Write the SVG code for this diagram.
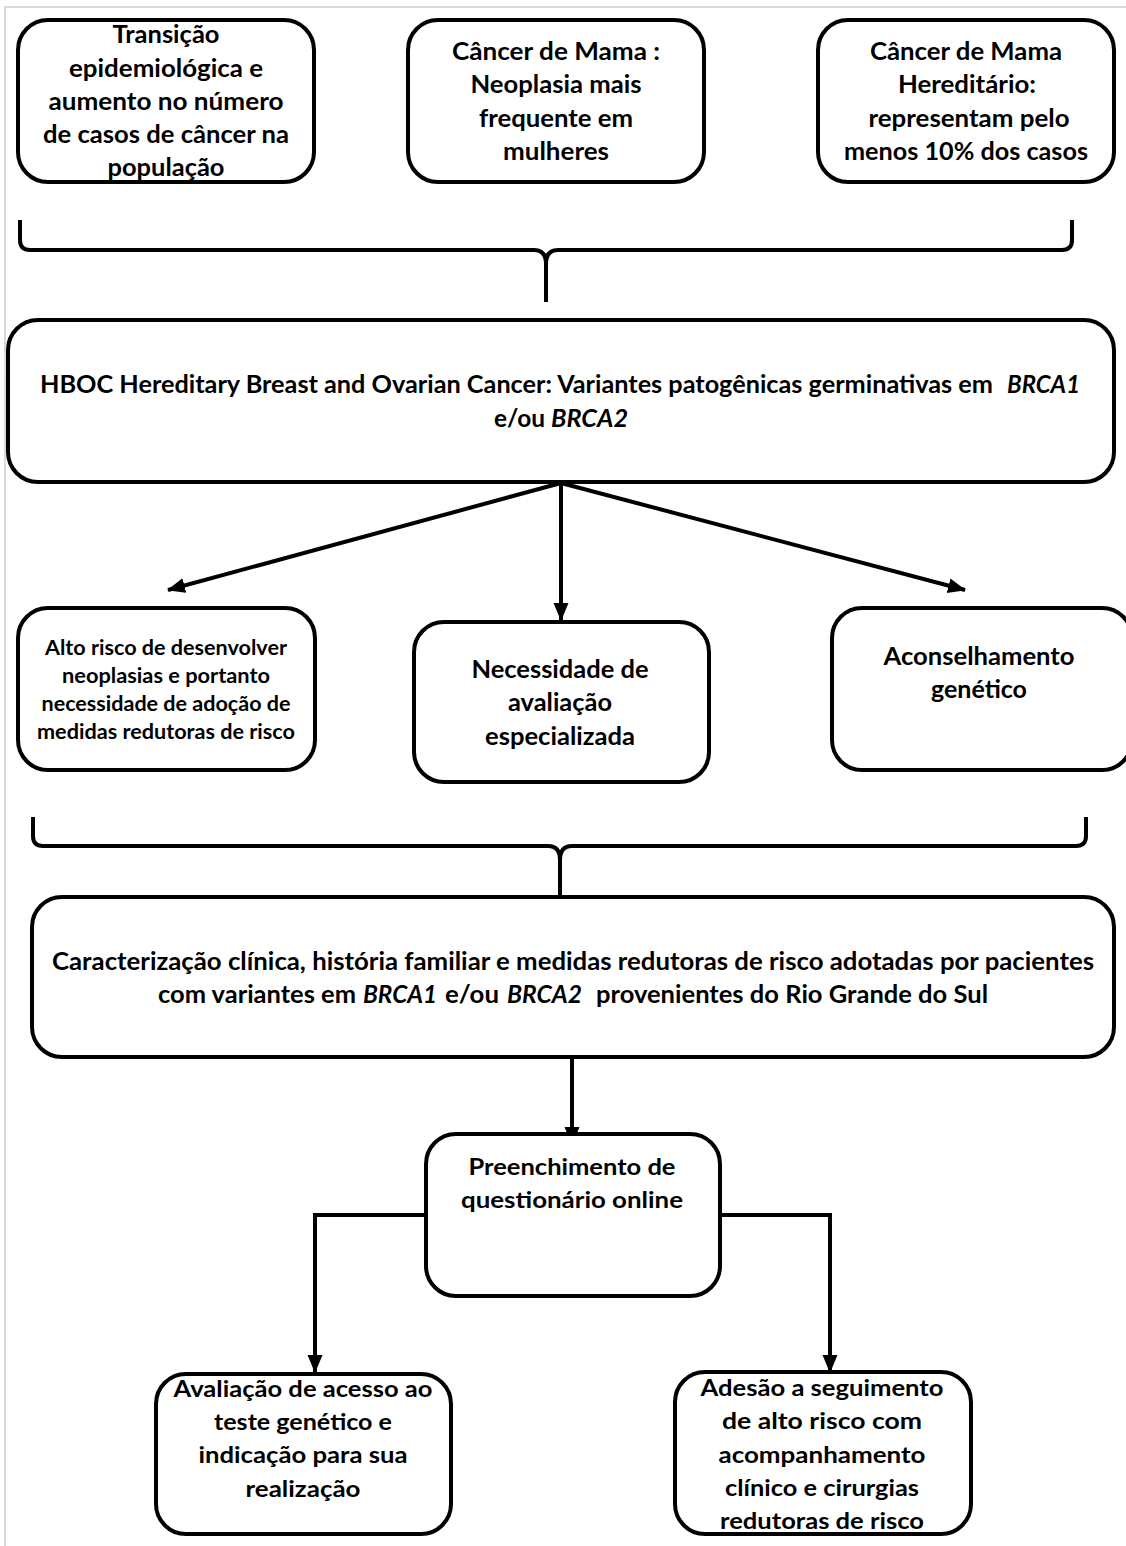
<svg xmlns="http://www.w3.org/2000/svg" width="1126" height="1546" viewBox="0 0 1126 1546">
<style>
.box{fill:#fff;stroke:#000;stroke-width:4}
.t{font-family:Lato,"Open Sans","Liberation Sans",sans-serif;font-weight:700;fill:#000;text-anchor:middle}
.st{text-anchor:start}
.l{font-size:24px}
.s{font-size:20px}
.c{font-size:23px}
.con{fill:none;stroke:#000;stroke-width:4}
.i{font-style:italic}
</style>
<defs>
<marker id="ah" markerUnits="userSpaceOnUse" markerWidth="18" markerHeight="16" refX="17" refY="7.5" orient="auto">
<path d="M0,0 L18,7.5 L0,15 z" fill="#000"/>
</marker>
</defs>
<rect width="1126" height="1546" fill="#fff"/>
<path d="M5,1546 L5,7 L1126,7" fill="none" stroke="#d9d9d9" stroke-width="2"/>

<g id="connectors">
<path class="con" d="M20,220 L20,240 Q20,250 30,250 L534,250 Q546,250 546,264 L546,302 M546,264 Q546,250 558,250 L1062,250 Q1072,250 1072,240 L1072,220"/>
<path class="con" d="M561,483 L168,590" marker-end="url(#ah)"/>
<path class="con" d="M561,483 L561,620" marker-end="url(#ah)"/>
<path class="con" d="M561,483 L965,590" marker-end="url(#ah)"/>
<path class="con" d="M33,817 L33,836 Q33,846 43,846 L548,846 Q560,846 560,860 L560,895 M560,860 Q560,846 572,846 L1076,846 Q1086,846 1086,836 L1086,817"/>
<path class="con" d="M572,1057 L572,1144" marker-end="url(#ah)"/>
<path class="con" d="M426,1215 L315,1215 L315,1372" marker-end="url(#ah)"/>
<path class="con" d="M720,1215 L830,1215 L830,1372" marker-end="url(#ah)"/>
</g>

<g id="n1">
<rect class="box" x="18" y="20" width="296" height="162" rx="30"/>
<text class="t l"><tspan x="166" y="43" textLength="107" lengthAdjust="spacingAndGlyphs">Transição</tspan><tspan x="166" y="77" textLength="194" lengthAdjust="spacingAndGlyphs">epidemiológica e</tspan><tspan x="166" y="110" textLength="235" lengthAdjust="spacingAndGlyphs">aumento no número</tspan><tspan x="166" y="143" textLength="246" lengthAdjust="spacingAndGlyphs">de casos de câncer na</tspan><tspan x="166" y="176" textLength="117" lengthAdjust="spacingAndGlyphs">população</tspan></text>
</g>
<g id="n2">
<rect class="box" x="408" y="20" width="296" height="162" rx="30"/>
<text class="t l"><tspan x="556" y="60" textLength="208" lengthAdjust="spacingAndGlyphs">Câncer de Mama :</tspan><tspan x="556" y="93" textLength="171" lengthAdjust="spacingAndGlyphs">Neoplasia mais</tspan><tspan x="556" y="127" textLength="154" lengthAdjust="spacingAndGlyphs">frequente em</tspan><tspan x="556" y="160" textLength="106" lengthAdjust="spacingAndGlyphs">mulheres</tspan></text>
</g>
<g id="n3">
<rect class="box" x="818" y="20" width="296" height="162" rx="30"/>
<text class="t l"><tspan x="966" y="60" textLength="192" lengthAdjust="spacingAndGlyphs">Câncer de Mama</tspan><tspan x="967" y="93" textLength="138" lengthAdjust="spacingAndGlyphs">Hereditário:</tspan><tspan x="969" y="127" textLength="201" lengthAdjust="spacingAndGlyphs">representam pelo</tspan><tspan x="966" y="160" textLength="244" lengthAdjust="spacingAndGlyphs">menos 10% dos casos</tspan></text>
</g>

<g id="n4">
<rect class="box" x="8" y="320" width="1106" height="162" rx="30"/>
<text class="t l st" x="40" y="393" textLength="953" lengthAdjust="spacingAndGlyphs">HBOC Hereditary Breast and Ovarian Cancer: Variantes patogênicas germinativas em</text>
<text class="t l st i" x="1007" y="393" textLength="73" lengthAdjust="spacingAndGlyphs">BRCA1</text>
<text class="t l st" x="494" y="427" textLength="51" lengthAdjust="spacingAndGlyphs">e/ou</text>
<text class="t l st i" x="551" y="427" textLength="77" lengthAdjust="spacingAndGlyphs">BRCA2</text>
</g>

<g id="n5">
<rect class="box" x="18" y="608" width="297" height="162" rx="30"/>
<text class="t s"><tspan x="166" y="655" textLength="242" lengthAdjust="spacingAndGlyphs">Alto risco de desenvolver</tspan><tspan x="166" y="683" textLength="208" lengthAdjust="spacingAndGlyphs">neoplasias e portanto</tspan><tspan x="166" y="711" textLength="249" lengthAdjust="spacingAndGlyphs">necessidade de adoção de</tspan><tspan x="166" y="739" textLength="258" lengthAdjust="spacingAndGlyphs">medidas redutoras de risco</tspan></text>
</g>
<g id="n6">
<rect class="box" x="414" y="622" width="295" height="160" rx="30"/>
<text class="t l"><tspan x="560" y="678" textLength="177" lengthAdjust="spacingAndGlyphs">Necessidade de</tspan><tspan x="560" y="711" textLength="104" lengthAdjust="spacingAndGlyphs">avaliação</tspan><tspan x="560" y="745" textLength="150" lengthAdjust="spacingAndGlyphs">especializada</tspan></text>
</g>
<g id="n7">
<rect class="box" x="832" y="608" width="300" height="162" rx="30"/>
<text class="t l"><tspan x="979" y="665" textLength="191" lengthAdjust="spacingAndGlyphs">Aconselhamento</tspan><tspan x="979" y="698" textLength="96" lengthAdjust="spacingAndGlyphs">genético</tspan></text>
</g>

<g id="n8">
<rect class="box" x="32" y="897" width="1082" height="160" rx="30"/>
<text class="t l" x="573" y="970" textLength="1042" lengthAdjust="spacingAndGlyphs">Caracterização clínica, história familiar e medidas redutoras de risco adotadas por pacientes</text>
<text class="t l st" x="158" y="1003" textLength="198" lengthAdjust="spacingAndGlyphs">com variantes em</text>
<text class="t l st i" x="363" y="1003" textLength="74" lengthAdjust="spacingAndGlyphs">BRCA1</text>
<text class="t l st" x="445" y="1003" textLength="54" lengthAdjust="spacingAndGlyphs">e/ou</text>
<text class="t l st i" x="507" y="1003" textLength="75" lengthAdjust="spacingAndGlyphs">BRCA2</text>
<text class="t l st" x="596" y="1003" textLength="392" lengthAdjust="spacingAndGlyphs">provenientes do Rio Grande do Sul</text>
</g>

<g id="n9">
<rect class="box" x="426" y="1134" width="294" height="162" rx="30"/>
<text class="t c"><tspan x="572" y="1175" textLength="207" lengthAdjust="spacingAndGlyphs">Preenchimento de</tspan><tspan x="572" y="1208" textLength="222" lengthAdjust="spacingAndGlyphs">questionário online</tspan></text>
</g>
<g id="n10">
<rect class="box" x="156" y="1374" width="295" height="160" rx="30"/>
<text class="t c"><tspan x="303" y="1397" textLength="259" lengthAdjust="spacingAndGlyphs">Avaliação de acesso ao</tspan><tspan x="303" y="1430" textLength="178" lengthAdjust="spacingAndGlyphs">teste genético e</tspan><tspan x="303" y="1463" textLength="209" lengthAdjust="spacingAndGlyphs">indicação para sua</tspan><tspan x="303" y="1497" textLength="115" lengthAdjust="spacingAndGlyphs">realização</tspan></text>
</g>
<g id="n11">
<rect class="box" x="675" y="1372" width="296" height="162" rx="30"/>
<text class="t c"><tspan x="822" y="1396" textLength="243" lengthAdjust="spacingAndGlyphs">Adesão a seguimento</tspan><tspan x="822" y="1429" textLength="200" lengthAdjust="spacingAndGlyphs">de alto risco com</tspan><tspan x="822" y="1463" textLength="207" lengthAdjust="spacingAndGlyphs">acompanhamento</tspan><tspan x="822" y="1496" textLength="194" lengthAdjust="spacingAndGlyphs">clínico e cirurgias</tspan><tspan x="822" y="1529" textLength="204" lengthAdjust="spacingAndGlyphs">redutoras de risco</tspan></text>
</g>
</svg>
